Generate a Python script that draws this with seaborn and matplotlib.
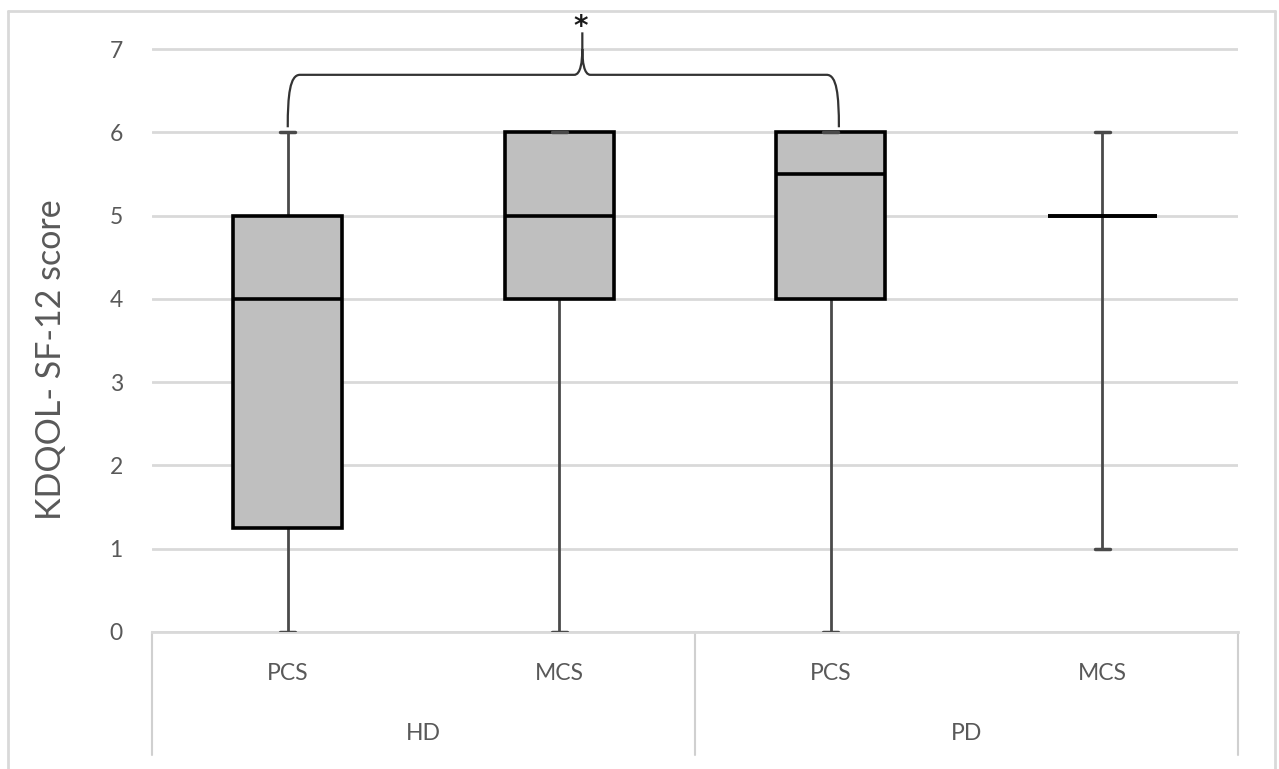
import numpy as np
import pandas as pd
import matplotlib
matplotlib.use("Agg")
import matplotlib.pyplot as plt
from matplotlib.path import Path
from matplotlib.patches import PathPatch
from matplotlib.lines import Line2D
import matplotlib.transforms as mtransforms
import seaborn as sns

# ---- data: five-number summaries (min, Q1, median, Q3, max) ----
groups = ["HD", "HD", "PD", "PD"]
measures = ["PCS", "MCS", "PCS", "MCS"]
hd_pcs = [0, 1.25, 4, 5, 6]
hd_mcs = [0, 4, 5, 6, 6]
pd_pcs = [0, 4, 5.5, 6, 6]
pd_mcs = [1, 5, 5, 5, 6]
series = [hd_pcs, hd_mcs, pd_pcs, pd_mcs]
yticks = [0, 1, 2, 3, 4, 5, 6, 7]
ylabel = "KDQOL- SF-12 score"
group_labels = ["HD", "PD"]
signif = "*"

cats = [f"{g}-{m}" for g, m in zip(groups, measures)]
rows = []
for c, vals in zip(cats, series):
    for v in vals:
        rows.append({"cat": c, "score": v})
df = pd.DataFrame(rows)

sns.set_style("white")
plt.rcParams["font.family"] = ["Lato", "DejaVu Sans"]

W, H = 1279, 769
fig = plt.figure(figsize=(W / 100, H / 100), dpi=100)
ax_l, ax_r, ax_b = 152, 1238, 632
unit = (632 - 49) / 7.0
ymax = 7.45
ax_t = ax_b - ymax * unit
ax = fig.add_axes([ax_l / W, (H - ax_b) / H, (ax_r - ax_l) / W, (ax_b - ax_t) / H])

txt = "#595959"
sns.boxplot(data=df, x="cat", y="score", order=cats, ax=ax, width=0.4,
            whis=(0, 100), color="#bfbfbf", saturation=1, linecolor="black",
            linewidth=2.5, fliersize=0,
            boxprops=dict(facecolor="#bfbfbf", edgecolor="black", linewidth=2.6, zorder=3),
            medianprops=dict(color="black", linewidth=2.6, zorder=4),
            whiskerprops=dict(color="#4a4a4a", linewidth=2, zorder=2),
            capprops=dict(color="#4a4a4a", linewidth=2.5, zorder=5))

# shorten caps
for ln in ax.lines:
    xd = np.asarray(ln.get_xdata(), dtype=float)
    yd = np.asarray(ln.get_ydata(), dtype=float)
    if len(xd) == 2 and yd[0] == yd[1] and abs(xd[1] - xd[0]) < 0.3 and abs(xd[1] - xd[0]) > 0.01:
        c = xd.mean()
        ln.set_xdata([c - 0.028, c + 0.028])

ax.set_xlim(-0.5, len(cats) - 0.5)
ax.set_ylim(0, ymax)
ax.set_yticks(yticks)
ax.set_yticklabels([str(t) for t in yticks])
ax.yaxis.grid(True, color="#d9d9d9", linewidth=2)
ax.set_axisbelow(True)
for s in ["left", "right", "top"]:
    ax.spines[s].set_visible(False)
ax.spines["bottom"].set_color("#d9d9d9")
ax.spines["bottom"].set_linewidth(2)
ax.tick_params(axis="y", length=0, pad=21, labelsize=16.5, labelcolor=txt)
ax.set_xticks(range(len(cats)))
ax.set_xticklabels(measures)
ax.tick_params(axis="x", length=0, pad=22, labelsize=16.5, labelcolor=txt)
ax.set_xlabel("")
ax.set_ylabel("")

# category table lines and group labels
trans = mtransforms.blended_transform_factory(ax.transData, ax.transAxes)
y_bot = (ax_b - 755) / (ax_b - ax_t)
for xv in [-0.5, 1.5, 3.5]:
    ax.add_line(Line2D([xv, xv], [0, y_bot], transform=trans, color="#d0d0d0",
                       linewidth=1.5, clip_on=False))
y_grp = (ax_b - 733) / (ax_b - ax_t)
for i, g in enumerate(group_labels):
    ax.text(2 * i + 0.5, y_grp, g, transform=trans, ha="center", va="center",
            fontsize=16.5, color=txt)

# y label
fig.text(51 / W, 1 - 360 / H, ylabel, rotation=90, ha="center", va="center",
         fontsize=24.5, color=txt)

# outer frame
fc = "#d9d9d9"
fig.add_artist(Line2D([8 / W, 8 / W], [0, 1 - 11 / H], transform=fig.transFigure, color=fc, lw=2))
fig.add_artist(Line2D([8 / W, 1275 / W], [1 - 11 / H, 1 - 11 / H], transform=fig.transFigure, color=fc, lw=2))
fig.add_artist(Line2D([1275 / W, 1275 / W], [0, 1 - 11 / H], transform=fig.transFigure, color=fc, lw=2))

# significance brace between HD-PCS and PD-PCS
x0, x1 = 0.0, 2.03
xm = 1.085
yb = max(hd_pcs) + 0.06
yh = 6.69
ytip0, ytip1 = 7.0, 7.2
dx = 0.045
verts = [
    (x0, yb), (x0, 6.45), (x0 + 0.008, yh), (x0 + dx, yh),
    (xm - 0.03, yh),
    (xm - 0.006, yh), (xm, 6.85), (xm, ytip0),
    (xm, ytip1),
    (xm, ytip0),
    (xm, 6.85), (xm + 0.006, yh), (xm + 0.03, yh),
    (x1 - dx, yh),
    (x1 - 0.008, yh), (x1, 6.45), (x1, yb),
]
codes = [Path.MOVETO, Path.CURVE4, Path.CURVE4, Path.CURVE4,
         Path.LINETO,
         Path.CURVE4, Path.CURVE4, Path.CURVE4,
         Path.LINETO,
         Path.MOVETO,
         Path.CURVE4, Path.CURVE4, Path.CURVE4,
         Path.LINETO,
         Path.CURVE4, Path.CURVE4, Path.CURVE4]
ax.add_patch(PathPatch(Path(verts, codes), facecolor="none", edgecolor="#333333",
                       linewidth=1.6, clip_on=False, zorder=6))
ax.text(xm - 0.005, 7.17, signif, ha="center", va="baseline", fontsize=20,
        fontweight="bold", color="#1a1a1a", family="DejaVu Sans", clip_on=False)

fig.savefig("out.png", dpi=100)
